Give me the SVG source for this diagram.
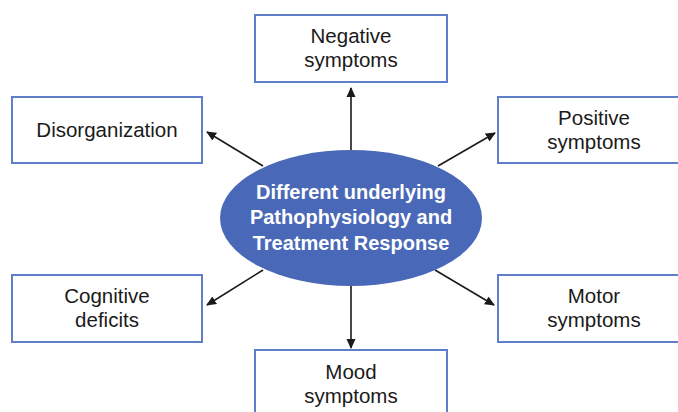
<svg xmlns="http://www.w3.org/2000/svg" width="678" height="412" viewBox="0 0 678 412">
<defs>
<marker id="ah" markerWidth="10" markerHeight="10" refX="9" refY="5" orient="auto" markerUnits="userSpaceOnUse">
<path d="M0,0.5 L10,5 L0,9.5 Z" fill="#1a1a1a"/>
</marker>
<style>
.box{fill:#fff;stroke:#5f7ec9;stroke-width:2}
.lbl{font-family:"Liberation Sans",Arial,sans-serif;font-size:20.5px;fill:#1a1a1a;text-anchor:middle}
.cen{font-family:"Liberation Sans",Arial,sans-serif;font-size:20px;font-weight:bold;fill:#fff;text-anchor:middle}
.con{stroke:#1a1a1a;stroke-width:1.6;fill:none;marker-end:url(#ah)}
</style>
</defs>
<rect width="678" height="412" fill="#fff"/>
<g id="connectors">
<line class="con" x1="351" y1="150" x2="351" y2="88"/>
<line class="con" x1="263" y1="166" x2="207" y2="132"/>
<line class="con" x1="438" y1="166" x2="495" y2="133"/>
<line class="con" x1="263" y1="270" x2="207" y2="305"/>
<line class="con" x1="435" y1="270" x2="494" y2="305"/>
<line class="con" x1="351" y1="286" x2="351" y2="348"/>
</g>
<g id="center">
<ellipse cx="351" cy="218" rx="131" ry="68" fill="#4a68b8"/>
<text class="cen" x="351" y="199">Different underlying</text>
<text class="cen" x="351" y="224">Pathophysiology and</text>
<text class="cen" x="351" y="250">Treatment Response</text>
</g>
<g id="negative">
<rect class="box" x="255" y="15" width="192" height="67"/>
<text class="lbl" x="351" y="43">Negative</text>
<text class="lbl" x="351" y="67">symptoms</text>
</g>
<g id="disorganization">
<rect class="box" x="12" y="97" width="190" height="66"/>
<text class="lbl" x="107" y="137">Disorganization</text>
</g>
<g id="positive">
<rect class="box" x="498" y="97" width="192" height="66"/>
<text class="lbl" x="594" y="125">Positive</text>
<text class="lbl" x="594" y="149">symptoms</text>
</g>
<g id="cognitive">
<rect class="box" x="12" y="275" width="190" height="67"/>
<text class="lbl" x="107" y="303">Cognitive</text>
<text class="lbl" x="107" y="327">deficits</text>
</g>
<g id="motor">
<rect class="box" x="498" y="275" width="192" height="67"/>
<text class="lbl" x="594" y="303">Motor</text>
<text class="lbl" x="594" y="327">symptoms</text>
</g>
<g id="mood">
<rect class="box" x="255" y="350" width="192" height="70"/>
<text class="lbl" x="351" y="379">Mood</text>
<text class="lbl" x="351" y="403">symptoms</text>
</g>
</svg>
